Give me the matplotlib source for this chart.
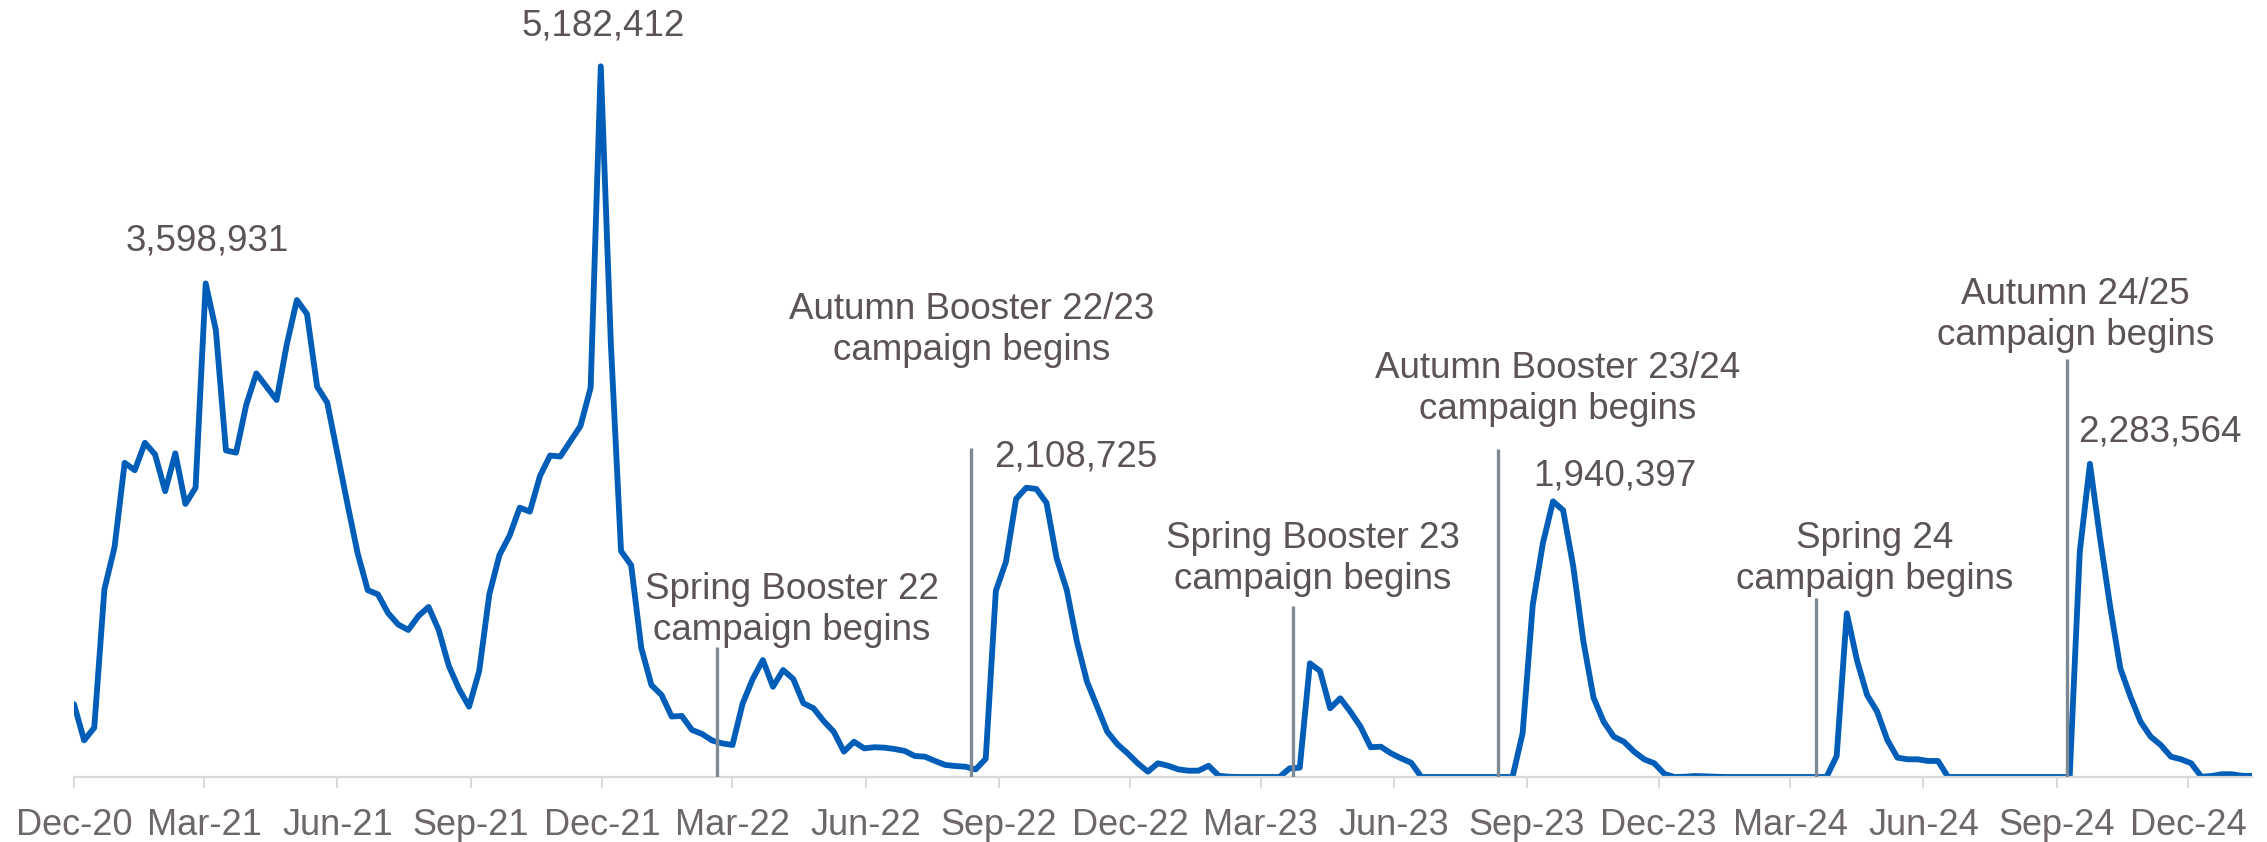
import matplotlib
matplotlib.use("Agg")
import matplotlib.pyplot as plt
import matplotlib.dates as mdates
import pandas as pd

# weekly doses (thousands), one value per week from 8 Dec 2020
start = "2020-12-08"
doses = [
    531, 267, 360, 1368, 1675, 2291, 2237, 2437, 2352, 2084,
    2360, 1991, 2109, 3599, 3260, 2381, 2365, 2713, 2943, 2846,
    2749, 3153, 3478, 3376, 2846, 2729, 2360, 1989, 1631, 1362,
    1332, 1196, 1112, 1072, 1174, 1240, 1072, 810, 643, 513,
    773, 1332, 1619, 1760, 1964, 1935, 2195, 2344, 2337, 2449,
    2560, 2839, 5182, 3151, 1648, 1544, 941, 670, 598, 441,
    445, 343, 314, 266, 245, 233, 535, 715, 853, 658,
    780, 715, 538, 501, 408, 330, 185, 257, 209, 217,
    214, 204, 190, 153, 148, 117, 88, 80, 75, 55,
    133, 1357, 1570, 2028, 2109, 2100, 1999, 1595, 1364, 987,
    695, 513, 330, 239, 173, 100, 39, 100, 82, 56,
    46, 46, 82, 9, 2, 0, 0, 0, 0, 0,
    63, 68, 829, 773, 501, 574, 476, 367, 217, 221,
    173, 136, 104, 0, 0, 0, 0, 0, 0, 0,
    0, 0, 0, 319, 1255, 1705, 2010, 1945, 1534, 987,
    578, 403, 294, 257, 185, 129, 100, 22, 0, 2,
    7, 5, 2, 0, 0, 0, 0, 0, 0, 0,
    0, 0, 0, 0, 153, 1194, 853, 598, 476, 270,
    141, 129, 129, 117, 117, 0, 0, 0, 0, 0,
    0, 0, 0, 0, 0, 0, 0, 0, 1643, 2284,
    1741, 1242, 793, 586, 403, 294, 233, 148, 129, 100,
    2, 7, 20, 20, 9, 7,
]
dates = pd.date_range(start, periods=len(doses), freq="7D")

# campaign start markers
campaign_dates = ["2022-02-25", "2022-08-20", "2023-03-30",
                  "2023-08-19", "2024-03-26", "2024-09-15"]
campaign_tops = [948, 2400, 1247, 2392, 1306, 3049]
campaign_labels = ["Spring Booster 22\ncampaign begins",
                   "Autumn Booster 22/23\ncampaign begins",
                   "Spring Booster 23\ncampaign begins",
                   "Autumn Booster 23/24\ncampaign begins",
                   "Spring 24\ncampaign begins",
                   "Autumn 24/25\ncampaign begins"]
campaign_label_x = ["2022-04-18", "2022-08-20", "2023-04-13",
                    "2023-09-29", "2024-05-05", "2024-09-21"]
campaign_label_y = [1218, 3260, 1590, 2830, 1590, 3370]

# peak labels
peak_labels = ["3,598,931", "5,182,412", "2,108,725", "1,940,397", "2,283,564"]
peak_label_x = ["2021-03-10", "2021-12-09", "2022-10-31", "2023-11-08", "2024-11-18"]
peak_label_y = [3905, 5478, 2334, 2195, 2512]

BLUE = "#005EB8"
MARKER = "#7D8A96"
TEXT = "#5B5354"
TICKTXT = "#6E6768"
GRID = "#D9D9D9"

plt.rcParams["font.family"] = ["Liberation Sans", "DejaVu Sans"]

fig = plt.figure(figsize=(22.67, 8.42), dpi=100)
ax = fig.add_axes([74 / 2267, 65 / 842, (2252 - 74) / 2267, 768 / 842])

ax.plot(dates, doses, color=BLUE, lw=4.2, solid_joinstyle="round",
        solid_capstyle="round", zorder=2)
ax.vlines(pd.to_datetime(campaign_dates), 0, campaign_tops, color=MARKER, lw=2.4, zorder=3)

for lbl, x, y in zip(campaign_labels, campaign_label_x, campaign_label_y):
    ax.text(pd.Timestamp(x), y, lbl, ha="center", va="center", fontsize=26.5,
            color=TEXT, linespacing=1.2, clip_on=False)
for lbl, x, y in zip(peak_labels, peak_label_x, peak_label_y):
    ax.text(pd.Timestamp(x), y, lbl, ha="center", va="center", fontsize=26.5,
            color=TEXT, clip_on=False)

ticks = [pd.Timestamp(start) + pd.DateOffset(months=3 * i) for i in range(17)]
ax.set_xticks(ticks)
ax.xaxis.set_major_formatter(mdates.DateFormatter("%b-%y"))
ax.set_xlim(dates[0], dates[-1])
ax.set_ylim(0, 5600)
ax.set_yticks([])

for s in ["left", "right", "top"]:
    ax.spines[s].set_visible(False)
ax.spines["bottom"].set_color(GRID)
ax.spines["bottom"].set_linewidth(1.6)
ax.tick_params(axis="x", direction="out", length=8, width=1.4, color=GRID,
               labelsize=26, labelcolor=TICKTXT, pad=14)

fig.savefig("out.png", dpi=100)
